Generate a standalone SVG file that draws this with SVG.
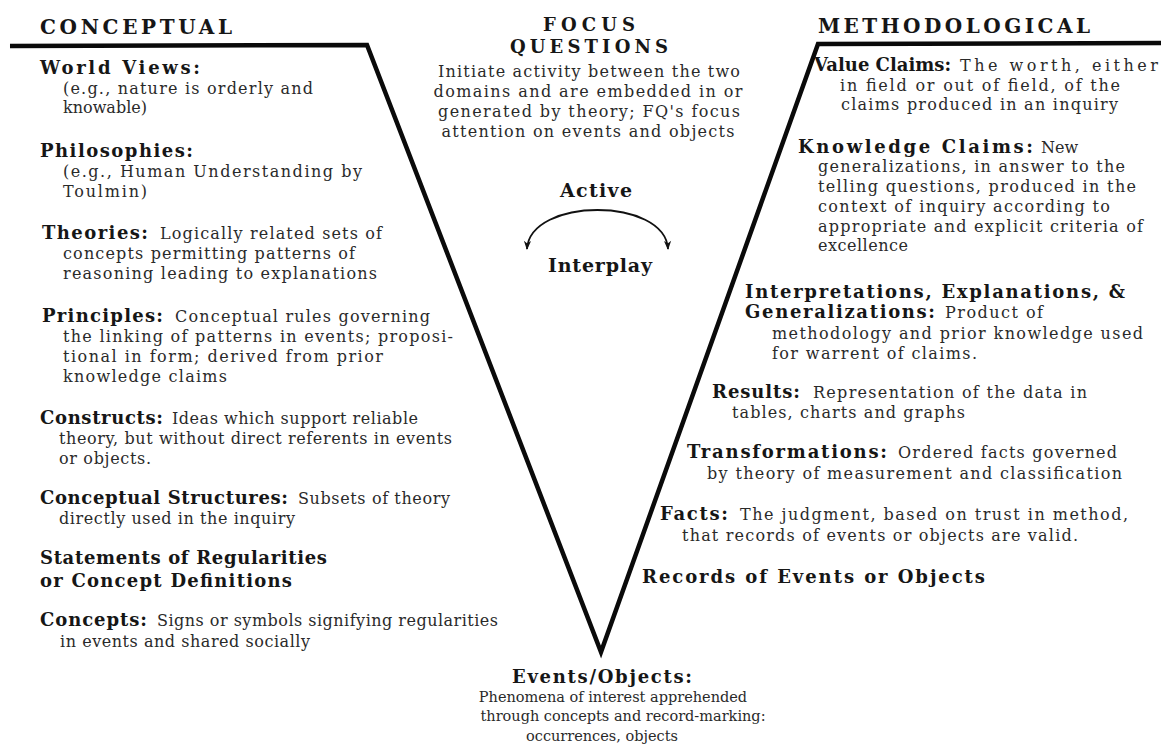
<svg xmlns="http://www.w3.org/2000/svg" width="1161" height="751" viewBox="0 0 1161 751">
<style>
text{font-family:"DejaVu Serif","Liberation Serif",serif}
.t{font-size:20px;font-weight:bold;fill:#161616}
.h{font-size:18px;font-weight:bold;fill:#161616}
.a{font-size:19px;font-weight:bold;fill:#161616}
.b{font-size:16px;fill:#2a2a2a}
.s{font-size:14.5px;fill:#2a2a2a}
.c{text-anchor:middle}
.v{fill:none;stroke:#0a0a0a;stroke-width:4.5;stroke-linejoin:miter}
.arc{fill:none;stroke:#111;stroke-width:1.8}
</style>
<defs>
<marker id="ah" viewBox="0 0 10 10" refX="9" refY="5" markerWidth="10" markerHeight="9" markerUnits="userSpaceOnUse" orient="auto-start-reverse">
<path d="M0,1 L10,5 L0,9 L3,5 z" fill="#111"/>
</marker>
</defs>
<rect width="1161" height="751" fill="#fff"/>

<g id="connectors">
<polyline class="v" points="10,46 367,45 601,652 818,44 1161,43"/>
<path class="arc" d="M 527 249 C 530 197, 665 197, 668 249" marker-start="url(#ah)" marker-end="url(#ah)"/>
</g>

<g id="conceptual">
<text class="t" x="40" y="34" textLength="192" lengthAdjust="spacing">CONCEPTUAL</text>
</g>
<g id="world-views">
<text class="h" x="40" y="74" textLength="160" lengthAdjust="spacing">World Views:</text>
<text class="b" x="63" y="94" textLength="250" lengthAdjust="spacing">(e.g., nature is orderly and</text>
<text class="b" x="63" y="113" textLength="84" lengthAdjust="spacing">knowable)</text>
</g>
<g id="philosophies">
<text class="h" x="40" y="157" textLength="153" lengthAdjust="spacing">Philosophies:</text>
<text class="b" x="63" y="177" textLength="299" lengthAdjust="spacing">(e.g., Human Understanding by</text>
<text class="b" x="63" y="197" textLength="84" lengthAdjust="spacing">Toulmin)</text>
</g>
<g id="theories">
<text class="h" x="42" y="239" textLength="106" lengthAdjust="spacing">Theories:</text>
<text class="b" x="160" y="239" textLength="222" lengthAdjust="spacing">Logically related sets of</text>
<text class="b" x="63" y="259" textLength="292" lengthAdjust="spacing">concepts permitting patterns of</text>
<text class="b" x="63" y="279" textLength="314" lengthAdjust="spacing">reasoning leading to explanations</text>
</g>
<g id="principles">
<text class="h" x="42" y="322" textLength="121" lengthAdjust="spacing">Principles:</text>
<text class="b" x="175" y="322" textLength="255" lengthAdjust="spacing">Conceptual rules governing</text>
<text class="b" x="63" y="342" textLength="390" lengthAdjust="spacing">the linking of patterns in events; proposi-</text>
<text class="b" x="63" y="362" textLength="320" lengthAdjust="spacing">tional in form; derived from prior</text>
<text class="b" x="63" y="382" textLength="164" lengthAdjust="spacing">knowledge claims</text>
</g>
<g id="constructs">
<text class="h" x="40" y="424" textLength="123" lengthAdjust="spacing">Constructs:</text>
<text class="b" x="172" y="424" textLength="246" lengthAdjust="spacing">Ideas which support reliable</text>
<text class="b" x="59" y="444" textLength="393" lengthAdjust="spacing">theory, but without direct referents in events</text>
<text class="b" x="59" y="464" textLength="92" lengthAdjust="spacing">or objects.</text>
</g>
<g id="conceptual-structures">
<text class="h" x="40" y="504" textLength="248" lengthAdjust="spacing">Conceptual Structures:</text>
<text class="b" x="298" y="504" textLength="152" lengthAdjust="spacing">Subsets of theory</text>
<text class="b" x="59" y="524" textLength="236" lengthAdjust="spacing">directly used in the inquiry</text>
</g>
<g id="statements">
<text class="h" x="40" y="564" textLength="287" lengthAdjust="spacing">Statements of Regularities</text>
<text class="h" x="40" y="587" textLength="252" lengthAdjust="spacing">or Concept Definitions</text>
</g>
<g id="concepts">
<text class="h" x="40" y="626" textLength="107" lengthAdjust="spacing">Concepts:</text>
<text class="b" x="157" y="626" textLength="341" lengthAdjust="spacing">Signs or symbols signifying regularities</text>
<text class="b" x="60" y="647" textLength="250" lengthAdjust="spacing">in events and shared socially</text>
</g>

<g id="focus-questions">
<text class="h c" x="589" y="31" textLength="92" lengthAdjust="spacing">FOCUS</text>
<text class="h c" x="589" y="53" textLength="158" lengthAdjust="spacing">QUESTIONS</text>
<text class="b c" x="589" y="77" textLength="302" lengthAdjust="spacing">Initiate activity between the two</text>
<text class="b c" x="588" y="97" textLength="309" lengthAdjust="spacing">domains and are embedded in or</text>
<text class="b c" x="589" y="117" textLength="302" lengthAdjust="spacing">generated by theory; FQ's focus</text>
<text class="b c" x="588" y="137" textLength="293" lengthAdjust="spacing">attention on events and objects</text>
</g>
<g id="active-interplay">
<text class="a c" x="596" y="197" textLength="72" lengthAdjust="spacing">Active</text>
<text class="a c" x="600" y="272" textLength="104" lengthAdjust="spacing">Interplay</text>
</g>

<g id="methodological">
<text class="t" x="818" y="33" textLength="272" lengthAdjust="spacing">METHODOLOGICAL</text>
</g>
<g id="value-claims">
<text class="h" x="814" y="71">Value Claims:</text>
<text class="b" x="960" y="71" textLength="198" lengthAdjust="spacing">The worth, either</text>
<text class="b" x="840" y="91" textLength="280" lengthAdjust="spacing">in field or out of field, of the</text>
<text class="b" x="841" y="110" textLength="277" lengthAdjust="spacing">claims produced in an inquiry</text>
</g>
<g id="knowledge-claims">
<text class="h" x="798" y="153" textLength="235" lengthAdjust="spacing">Knowledge Claims:</text>
<text class="b" x="1041" y="153">New</text>
<text class="b" x="818" y="172" textLength="307" lengthAdjust="spacing">generalizations, in answer to the</text>
<text class="b" x="818" y="192" textLength="318" lengthAdjust="spacing">telling questions, produced in the</text>
<text class="b" x="818" y="212" textLength="292" lengthAdjust="spacing">context of inquiry according to</text>
<text class="b" x="818" y="232" textLength="325" lengthAdjust="spacing">appropriate and explicit criteria of</text>
<text class="b" x="818" y="251" textLength="90" lengthAdjust="spacing">excellence</text>
</g>
<g id="interpretations">
<text class="h" x="745" y="298" textLength="380" lengthAdjust="spacing">Interpretations, Explanations, &amp;</text>
<text class="h" x="745" y="318" textLength="190" lengthAdjust="spacing">Generalizations:</text>
<text class="b" x="945" y="318" textLength="98" lengthAdjust="spacing">Product of</text>
<text class="b" x="772" y="339" textLength="371" lengthAdjust="spacing">methodology and prior knowledge used</text>
<text class="b" x="772" y="359" textLength="205" lengthAdjust="spacing">for warrent of claims.</text>
</g>
<g id="results">
<text class="h" x="712" y="398" textLength="88" lengthAdjust="spacing">Results:</text>
<text class="b" x="813" y="398" textLength="274" lengthAdjust="spacing">Representation of the data in</text>
<text class="b" x="732" y="418" textLength="233" lengthAdjust="spacing">tables, charts and graphs</text>
</g>
<g id="transformations">
<text class="h" x="687" y="458" textLength="200" lengthAdjust="spacing">Transformations:</text>
<text class="b" x="898" y="458" textLength="219" lengthAdjust="spacing">Ordered facts governed</text>
<text class="b" x="707" y="479" textLength="415" lengthAdjust="spacing">by theory of measurement and classification</text>
</g>
<g id="facts">
<text class="h" x="660" y="520" textLength="68" lengthAdjust="spacing">Facts:</text>
<text class="b" x="740" y="520" textLength="388" lengthAdjust="spacing">The judgment, based on trust in method,</text>
<text class="b" x="682" y="541" textLength="396" lengthAdjust="spacing">that records of events or objects are valid.</text>
</g>
<g id="records">
<text class="h" x="642" y="583" textLength="343" lengthAdjust="spacing">Records of Events or Objects</text>
</g>

<g id="events-objects">
<text class="h c" x="602" y="683" textLength="180" lengthAdjust="spacing">Events/Objects:</text>
<text class="s c" x="613" y="702">Phenomena of interest apprehended</text>
<text class="s c" x="623" y="721">through concepts and record-marking:</text>
<text class="s c" x="602" y="741">occurrences, objects</text>
</g>
</svg>
